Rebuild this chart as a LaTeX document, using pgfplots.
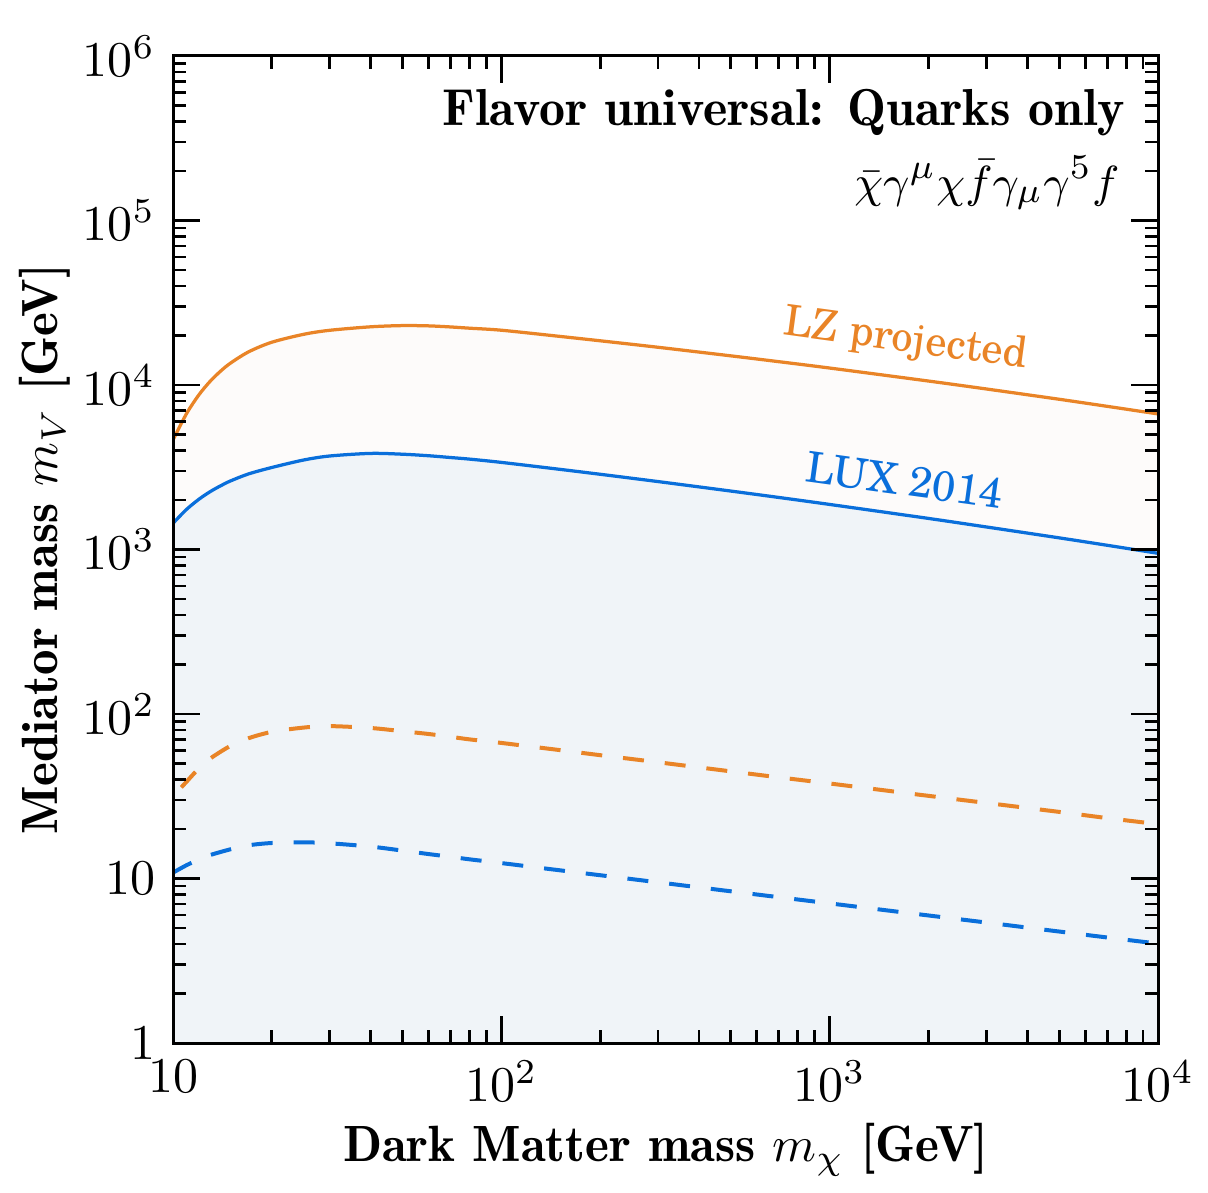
\documentclass[border=0pt]{standalone}
\usepackage{fontspec}
\usepackage{pgfplots}
\usepackage{pgfplotstable}
\pgfplotsset{compat=1.18}

\newfontfamily\demi{Latin Modern Roman Demi}
\newfontfamily\schola{TeX Gyre Schola}

\definecolor{lzorange}{HTML}{E98427}
\definecolor{luxblue}{HTML}{0A6FDB}
\definecolor{luxfill}{HTML}{F0F4F8}
\definecolor{lzfill}{HTML}{FDFBFA}

% Mediator mass limits versus dark matter mass (GeV)
\pgfplotstableread{
x y
10 4633
11 6709
12 8730
13 10575
14 12200
15 13625
17 15915
20 18200
25 20330
30 21505
40 22585
50 22970
60 22880
70 22540
80 22150
100 21530
150 19770
200 18570
300 16960
500 15040
700 13860
1000 12680
2000 10570
3000 9460
5000 8190
7000 7420
10000 6670
}\lzsolid

\pgfplotstableread{
x y
10 1443
11 1754
12 2022
13 2252
14 2446
15 2616
17 2882
20 3152
25 3500
30 3702
40 3839
50 3796
60 3716
70 3624
80 3544
100 3385
150 3075
200 2866
300 2588
500 2266
700 2072
1000 1879
2000 1545
3000 1371
5000 1177
7000 1061
10000 948
}\luxsolid

\pgfplotstableread{
x y
10.6 35.8
11 38.8
12 46.8
13 53.7
15 64.2
17 71.3
20 77.9
25 82.7
30 84.4
40 82.2
50 78.6
60 75.6
70 72.7
80 70.1
100 66.7
150 60.4
200 56.2
300 50.9
500 44.8
700 41.2
1000 37.8
2000 31.8
3000 28.8
5000 25.4
7000 23.3
10000 21.4
}\lzdashed

\pgfplotstableread{
x y
10 10.85
11 12.05
12 13.05
13 13.90
15 15.07
17 15.92
20 16.44
25 16.60
30 16.37
40 15.63
50 14.78
60 14.08
70 13.55
80 13.08
100 12.41
150 11.23
200 10.47
300 9.48
500 8.36
700 7.70
1000 7.06
2000 5.96
3000 5.40
5000 4.76
7000 4.38
10000 4.02
}\luxdashed

\begin{document}
\begin{tikzpicture}
\begin{axis}[
  scale only axis,
  width=197pt, height=197.4pt,
  xmode=log, ymode=log,
  xmin=10, xmax=10000, ymin=1, ymax=1000000,
  xtick={10,100,1000,10000},
  xticklabels={$10$,$10^{2}$,$10^{3}$,$10^{4}$},
  ytick={1,10,100,1000,10000,100000,1000000},
  yticklabels={$1$,$10$,$10^{2}$,$10^{3}$,$10^{4}$,$10^{5}$,$10^{6}$},
  minor xtick={20,30,40,50,60,70,80,90,200,300,400,500,600,700,800,900,2000,3000,4000,5000,6000,7000,8000,9000},
  minor ytick={2,3,4,5,6,7,8,9,20,30,40,50,60,70,80,90,200,300,400,500,600,700,800,900,2000,3000,4000,5000,6000,7000,8000,9000,20000,30000,40000,50000,60000,70000,80000,90000,200000,300000,400000,500000,600000,700000,800000,900000},
  tick align=inside,
  major tick length=5.4pt,
  minor tick length=2.7pt,
  tick style={black, line width=0.55pt},
  axis line style={line width=0.6pt},
  axis on top,
  xlabel={Dark Matter mass $m_\chi$ [GeV]},
  ylabel={Mediator mass $m_V$ [GeV]},
  xlabel style={font=\fontsize{10.2}{12}\selectfont\demi, at={(ticklabel cs:0.5,-2.4pt)}},
  ylabel style={font=\fontsize{10.2}{12}\selectfont\demi, at={(ticklabel cs:0.5,-4.4pt)}},
]
% shaded regions below each solid limit
\addplot[draw=none, fill=lzfill, smooth] table {\lzsolid} \closedcycle;
\addplot[draw=none, fill=luxfill, smooth] table {\luxsolid} \closedcycle;

% limit curves
\addplot[lzorange, line width=0.65pt, smooth] table {\lzsolid};
\addplot[luxblue, line width=0.65pt, smooth] table {\luxsolid};
\addplot[lzorange, line width=0.8pt, smooth, dash pattern=on 4.2pt off 4.2pt] table {\lzdashed};
\addplot[luxblue, line width=0.8pt, smooth, dash pattern=on 4.2pt off 4.2pt] table {\luxdashed};

% annotations
\node[anchor=base east, inner sep=0pt, font=\fontsize{10.4}{12}\selectfont\demi] at (rel axis cs:0.9675,0.930) {Flavor universal: Quarks only};
\node[anchor=base east, inner sep=0pt, font=\fontsize{9.5}{11}\selectfont] at (rel axis cs:0.962,0.857) {$\bar{\chi}\gamma^{\mu}\chi\bar{f}\gamma_{\mu}\gamma^{5}f$};
\node[rotate=-7.8, text=lzorange, font=\fontsize{8.5}{10}\selectfont\schola] at (rel axis cs:0.744,0.712) {LZ projected};
\node[rotate=-7.8, text=luxblue, font=\fontsize{8.5}{10}\selectfont\schola] at (rel axis cs:0.743,0.570) {LUX 2014};
\end{axis}
\pgfresetboundingbox
\path ([shift={(-34.6pt,-30pt)}]current axis.south west) rectangle ([shift={(10pt,11.2pt)}]current axis.north east);
\end{tikzpicture}
\end{document}
